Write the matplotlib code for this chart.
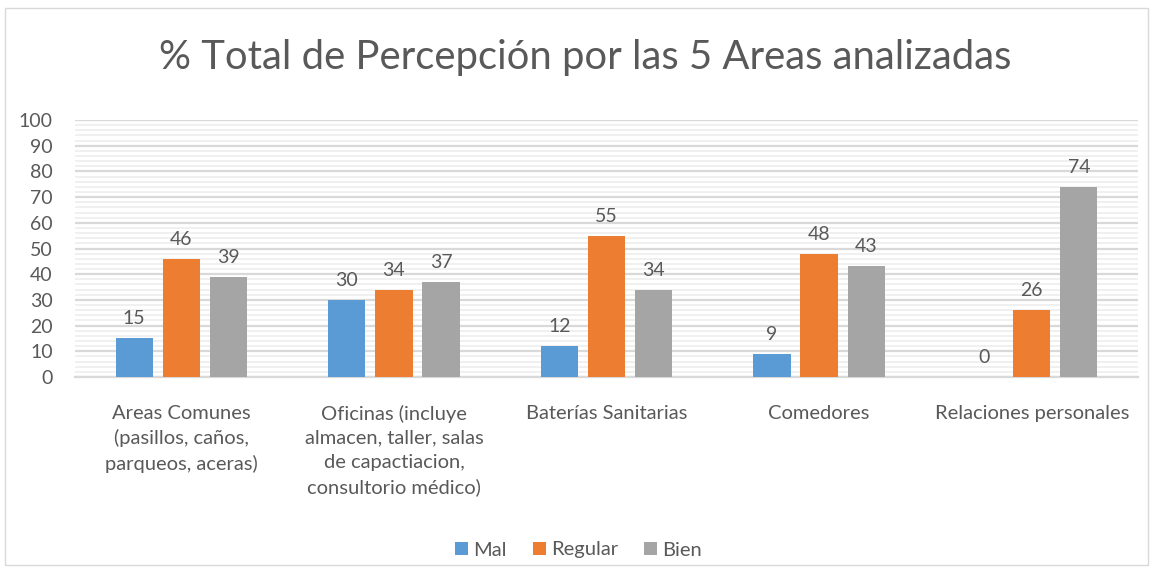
import numpy as np
import matplotlib
matplotlib.use('Agg')
import matplotlib.pyplot as plt
from matplotlib.ticker import MultipleLocator

plt.rcParams['font.family'] = ['Lato', 'DejaVu Sans']

# datos
categorias = ['Areas Comunes\n(pasillos, caños,\nparqueos, aceras)',
              'Oficinas (incluye\nalmacen, taller, salas\nde capactiacion,\nconsultorio médico)',
              'Baterías Sanitarias',
              'Comedores',
              'Relaciones personales']
mal = [15, 30, 12, 9, 0]
regular = [46, 34, 55, 48, 26]
bien = [39, 37, 34, 43, 74]
series = ['Mal', 'Regular', 'Bien']
colores = ['#5B9BD5', '#ED7D31', '#A5A5A5']
texto = '#595959'

fig = plt.figure(figsize=(11.57, 5.69), dpi=100)
ax = fig.add_axes([75 / 1157, 1 - 377 / 569, (1138 - 75) / 1157, 257 / 569])

x = np.arange(len(categorias))
w = 0.175
sep = 0.222
for i, (vals, nombre, col) in enumerate(zip([mal, regular, bien], series, colores)):
    barras = ax.bar(x + (i - 1) * sep, vals, width=w, color=col, label=nombre, zorder=3)
    ax.bar_label(barras, labels=[str(v) for v in vals], padding=8,
                 fontsize=14, color=texto)

ax.set_xlim(-0.5, len(categorias) - 0.5)
ax.set_ylim(0, 100)
ax.yaxis.set_major_locator(MultipleLocator(10))
ax.yaxis.set_minor_locator(MultipleLocator(2))
ax.grid(axis='y', which='major', color='#D9D9D9', linewidth=1.6, zorder=0)
ax.grid(axis='y', which='minor', color='#EDEDED', linewidth=1.2, zorder=0)
ax.set_axisbelow(True)
for s in ['top', 'right', 'left']:
    ax.spines[s].set_visible(False)
ax.spines['bottom'].set_color('#D9D9D9')
ax.spines['bottom'].set_linewidth(1.6)
ax.tick_params(axis='both', which='both', length=0, labelsize=14, labelcolor=texto)
ax.tick_params(axis='y', pad=16)
ax.tick_params(axis='x', pad=20)
ax.set_xticks(x)
ax.set_xticklabels(categorias, linespacing=1.5, fontsize=14.5)

fig.text(585 / 1157, 1 - 58 / 569, '% Total de Percepción por las 5 Areas analizadas',
         ha='center', va='center', fontsize=28.8, color=texto)

fig.legend(loc='center', bbox_to_anchor=(0.5, 1 - 550 / 569), ncol=3, frameon=False,
           fontsize=14.5, labelcolor=texto, handlelength=0.65, handleheight=0.65,
           handletextpad=0.25, columnspacing=1.3)

# marco exterior
fig.patches.append(plt.Rectangle((5 / 1157, 4 / 569), 1143 / 1157, 557 / 569,
                                 transform=fig.transFigure, fill=False,
                                 edgecolor='#D9D9D9', linewidth=1))

fig.savefig('out.png', dpi=100, facecolor='white')
